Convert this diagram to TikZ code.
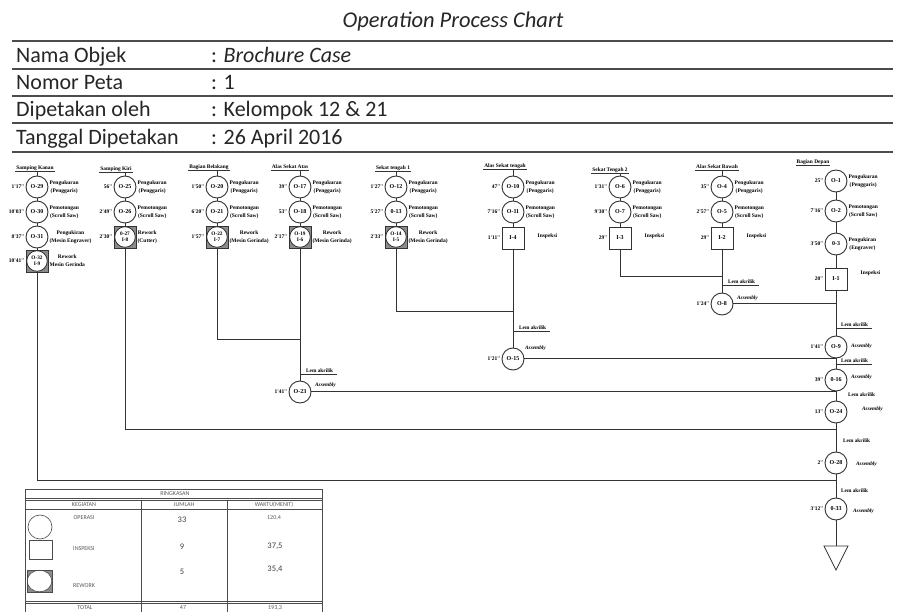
\documentclass[tikz,border=0pt]{standalone}
\usepackage{fontspec}
\setmainfont{Carlito}
\newfontfamily\tms{Liberation Serif}

\begin{document}
\begin{tikzpicture}[x=1pt, y=-1pt,
    garis/.style={line width=1pt, draw=black!80},
    lambang/.style={draw=black!80, line width=0.9pt, minimum size=22pt, inner sep=0pt, fill=white,
      font=\tms\bfseries\fontsize{6}{6}\selectfont},
    op/.style={lambang, circle},
    insp/.style={lambang, rectangle},
    rework/.style={lambang, rectangle, fill=black!45, align=center,
      font=\tms\bfseries\fontsize{5.3}{5.8}\selectfont,
      path picture={\filldraw[fill=white, draw=black!80, line width=0.8pt]
        (path picture bounding box.center) circle (10.3pt);}},
    waktu/.style={font=\tms\bfseries\fontsize{5.5}{6}\selectfont, inner sep=1pt},
    ket/.style={font=\tms\bfseries\fontsize{5.5}{8}\selectfont, align=center, inner sep=1pt},
    judul/.style={font=\tms\bfseries\fontsize{5.4}{6}\selectfont, inner sep=1pt},
    lem/.style={font=\tms\bfseries\fontsize{5.3}{6}\selectfont, inner sep=1pt, anchor=west},
    asm/.style={font=\tms\bfseries\itshape\fontsize{5.3}{6}\selectfont, inner sep=1pt, anchor=west},
    kepala/.style={font=\fontsize{22}{24}\selectfont, text=black!85, anchor=base west, inner sep=0pt},
    tabel/.style={font=\fontsize{6}{7}\selectfont, text=black!65, inner sep=0pt},
    angka/.style={font=\fontsize{8.5}{9}\selectfont, text=black!75, inner sep=0pt},
    garistabel/.style={line width=0.6pt, draw=black!70}]
  \fill[white] (0,0) rectangle (898,612);
  \useasboundingbox (0,0) rectangle (898,612);
  % Kepala peta
  \node[font=\itshape\fontsize{22.5}{24}\selectfont, text=black!85] (judulpeta) at (453,22) {Operation Process Chart};
  \foreach \y in {41,69,96,123,152} \draw[line width=1.3pt, black!70] (12,\y) -- (893,\y);
  \foreach \k/\v/\y in {Nama Objek/\textit{Brochure Case}/63, Nomor Peta/1/90,
      Dipetakan oleh/Kelompok 12 \& 21/117, Tanggal Dipetakan/26 April 2016/145}
  {
    \node[kepala] (k\y) at (16,\y) {\k};
    \node[kepala] (v\y) at (211,\y) {: \v};
  }
  % Operasi
  \foreach \nm/\px/\py/\lb/\tm/\ds in {
      o29/37/187/O-29/{1'17''}/{Pengukuran\\(Penggaris)},
      o30/37/212/O-30/{10'03''}/{Pemotongan\\(Scroll Saw)},
      o31/37/237/O-31/{8'37''}/{Pengukiran\\(Mesin Engraver)},
      o25/125/187/O-25/{56''}/{Pengukuran\\(Penggaris)},
      o26/125/212/O-26/{2'49''}/{Pemotongan\\(Scroll Saw)},
      o20/217/187/O-20/{1'50''}/{Pengukuran\\(Penggaris)},
      o21/217/212/O-21/{6'20''}/{Pemotongan\\(Scroll Saw)},
      o17/300/187/O-17/{39''}/{Pengukuran\\(Penggaris)},
      o18/300/212/O-18/{53''}/{Pemotongan\\(Scroll Saw)},
      o12/396/187/O-12/{1'27''}/{Pengukuran\\(Penggaris)},
      o13/396/212/0-13/{5'27''}/{Pemotongan\\(Scroll Saw)},
      o10/513/187/O-10/{47''}/{Pengukuran\\(Penggaris)},
      o11/513/212/O-11/{7'16''}/{Pemotongan\\(Scroll Saw)},
      o6/620/187/O-6/{1'31''}/{Pengukuran\\(Penggaris)},
      o7/620/212/O-7/{9'30''}/{Pemotongan\\(Scroll Saw)},
      o4/722/187/O-4/{35''}/{Pengukuran\\(Penggaris)},
      o5/722/212/O-5/{2'57''}/{Pemotongan\\(Scroll Saw)},
      o1/836/181/O-1/{25''}/{Pengukuran\\(Penggaris)},
      o2/836/211/O-2/{7'16''}/{Pemotongan\\(Scroll Saw)},
      o3/836/244/0-3/{3'50''}/{Pengukiran\\(Engraver)}}
    \node[op, label={[waktu]left:\tm}, label={[ket]right:\ds}] (\nm) at (\px,\py) {\lb};
  % Rework dan inspeksi
  \node[rework, label={[waktu]left:10'41''}, label={[ket]right:Rework\\Mesin Gerinda}] (i9) at (37,261) {O-32\\I-9};
  \node[rework, label={[waktu]left:2'30''}, label={[ket]right:Rework\\(Cutter)}] (i8) at (125,237) {0-27\\I-8};
  \node[rework, label={[waktu]left:1'57''}, label={[ket]right:Rework\\(Mesin Gerinda)}] (i7) at (217,237) {O-22\\I-7};
  \node[rework, label={[waktu]left:2'17''}, label={[ket]right:Rework\\(Mesin Gerinda)}] (i6) at (300,237) {O-19\\I-6};
  \node[rework, label={[waktu]left:2'33''}, label={[ket]right:Rework\\(Mesin Gerinda)}] (i5) at (396,237) {O-14\\I-5};
  \node[insp, label={[waktu]left:1'11''}, label={[ket, xshift=12pt, yshift=2pt]right:Inspeksi}] (i4) at (513,238) {I-4};
  \node[insp, label={[waktu]left:29''}, label={[ket, xshift=12pt, yshift=2pt]right:Inspeksi}] (i3) at (620,238) {I-3};
  \node[insp, label={[waktu]left:29''}, label={[ket, xshift=12pt, yshift=2pt]right:Inspeksi}] (i2) at (722,238) {I-2};
  \node[insp, label={[waktu]left:20''}, label={[ket, xshift=12pt, yshift=6pt]right:Inspeksi}] (i1) at (836,279) {I-1};
  % Perakitan
  \foreach \nm/\px/\py/\lb/\tm in {o23/300/392/O-23/{1'41''}, o15/513/359/O-15/{1'21''},
      o8/722/304/O-8/{1'24''}, o9/836/347/O-9/{1'41''}, o16/836/380/0-16/{39''},
      o24/836/412/O-24/{13''}, o28/836/463/O-28/{2''}, o33/836/509/0-33/{3'12''}}
    \node[op, label={[waktu]left:\tm}] (\nm) at (\px,\py) {\lb};
  \foreach \nm/\px/\py in {l23/305/371, l15/518/328, l8/727/282, l9/840/325,
      l16/840/361, l24/847/395, l28/842/441, l33/840/491}
    \node[lem] (\nm) at (\px,\py) {Lem akrilik};
  \foreach \nm/\sp in {l23/o23, l15/o15, l8/o8, l9/o9, l16/o16}
    \draw[garis, line width=0.7pt] (\nm.south -| \sp) -- ([xshift=3pt]\nm.south east);
  \foreach \nm/\px/\py in {a23/314/385, a15/524/348, a8/736/298, a9/850/346,
      a16/850/377, a24/861/409, a28/855/464, a33/852/511}
    \node[asm] (\nm) at (\px,\py) {Assembly};
  % Nama komponen
  \foreach \nm/\px/\py/\tx/\fs in {h1/35/168/Samping Kanan/o29, h2/116/169/Samping Kiri/o25,
      h3/209/167/Bagian Belakang/o20, h4/290/167/Alas Sekat Atas/o17, h5/393/168/Sekat tengah 1/o12,
      h6/505/166/Alas Sekat tengah/o10, h7/610/170/Sekat Tengah 2/o6, h8/717/167/Alas Sekat Bawah/o4}
  {
    \node[judul] (\nm) at (\px,\py) {\tx};
    \draw[garis, line width=0.7pt] (\nm.south west) -- (\nm.south east);
    \draw[garis, line width=0.7pt] (\nm.south -| \fs) -- (\fs);
  }
  \node[judul] (h9) at (813,162) {Bagian Depan};
  \draw[garis, line width=0.7pt] (h9.south west) -- (h9.south east);
  % Garis aliran
  \coordinate (m1) at (836,481);
  \coordinate (m2) at (836,430);
  \coordinate (m3) at (300,340);
  \coordinate (m5) at (513,312);
  \coordinate (m7) at (722,277);
  \coordinate (akhir) at (836,546);
  \draw[garis] (o29) -- (o30) -- (o31) -- (i9) |- (m1);
  \draw[garis] (o25) -- (o26) -- (i8) |- (m2);
  \draw[garis] (o20) -- (o21) -- (i7) |- (m3);
  \draw[garis] (o17) -- (o18) -- (i6) -- (o23) -- (o23 -| o24);
  \draw[garis] (o12) -- (o13) -- (i5) |- (m5);
  \draw[garis] (o10) -- (o11) -- (i4) -- (o15) -- (o15 -| o9);
  \draw[garis] (o6) -- (o7) -- (i3) |- (m7);
  \draw[garis] (o4) -- (o5) -- (i2) -- (o8) -- (o8 -| i1);
  \draw[garis] (o1) -- (o2) -- (o3) -- (i1) -- (o9) -- (o16) -- (o24) -- (o28) -- (o33) -- (akhir);
  \draw[garis, line width=0.8pt, fill=white] (akhir) ++(-12,0) -- ++(24,0) -- ++(-12,24) -- cycle;
  % Ringkasan
  \draw[garistabel] (25,612) -- (25,489) -- (322,489) -- (322,612);
  \foreach \y in {498,500.5,509,601,603.5} \draw[garistabel] (25,\y) -- (322,\y);
  \foreach \x in {141,227} \draw[garistabel] (\x,500.5) -- (\x,612);
  \node[tabel] (ringkasan) at (175,494) {RINGKASAN};
  \node[tabel] (kegiatan) at (84,504.5) {KEGIATAN};
  \node[tabel] (jumlah) at (184,504.5) {JUMLAH};
  \node[tabel] (waktu) at (274,504.5) {WAKTU(MENIT)};
  \node[draw=black!70, line width=0.6pt, circle, minimum size=24pt, inner sep=0pt] (lop) at (40,527) {};
  \node[draw=black!70, line width=0.6pt, minimum width=23pt, minimum height=19pt, inner sep=0pt] (lin) at (40.5,549.5) {};
  \node[draw=black!70, line width=0.6pt, fill=black!45, minimum width=25pt, minimum height=22pt, inner sep=0pt,
    path picture={\filldraw[fill=white, draw=black!70, line width=0.6pt]
      (path picture bounding box.center) ellipse (12.3pt and 10.8pt);}] (lrw) at (39.5,581) {};
  \node[tabel] (toperasi) at (84,518) {OPERASI};
  \node[tabel] (tinspeksi) at (84,549) {INSPEKSI};
  \node[tabel] (trework) at (84,586) {REWORK};
  \node[angka] (jop) at (182,520) {33};
  \node[angka] (jin) at (182,547) {9};
  \node[angka] (jrw) at (182,572) {5};
  \node[tabel] (wop) at (274,518) {120,4};
  \node[angka] (win) at (275,546) {37,5};
  \node[angka] (wrw) at (275,569) {35,4};
  \node[tabel] (ttotal) at (85,608) {TOTAL};
  \node[tabel] (jtotal) at (183,608) {47};
  \node[tabel] (wtotal) at (275,608) {193,3};
\end{tikzpicture}
\end{document}
